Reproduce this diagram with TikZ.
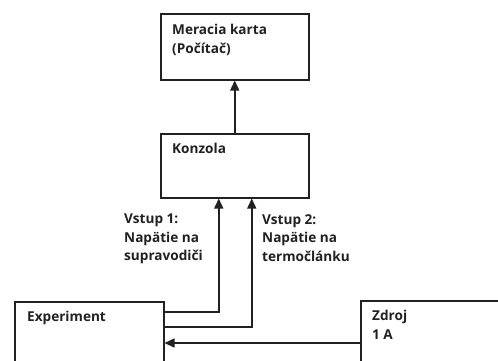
\documentclass[tikz,border=0pt]{standalone}
\usepackage{fontspec}
\setmainfont{Open Sans}
\usetikzlibrary{arrows.meta}
\definecolor{ink}{RGB}{35,32,32}
\tikzset{
  box/.style={draw=ink, line width=1.5pt, anchor=north west, inner sep=0pt},
  lbl/.style={anchor=north west, inner sep=0pt, align=left, text=ink,
    font=\fontsize{13.6}{18.5}\selectfont\bfseries},
  arr/.style={draw=ink, line width=1.5pt, -{Triangle[length=10pt,width=9pt]}},
}
\begin{document}
\begin{tikzpicture}[x=1pt,y=-1pt]
\useasboundingbox[fill=white] (0,0) rectangle (498,360);
\begin{scope}
\clip (0,0) rectangle (498,360);
\node[box, minimum width=148pt, minimum height=66pt] (mer) at (160,13) {};
\node[box, minimum width=148pt, minimum height=64pt] (kon) at (160,133) {};
\node[box, minimum width=149pt, minimum height=90pt] (exp) at (14,301) {};
\node[box, minimum width=160pt, minimum height=90pt] (zdr) at (360,300) {};

\node[lbl] (tmer) at (172,24) {Meracia karta\\(Počítač)};
\node[lbl] (tkon) at (172,143) {Konzola};
\node[lbl] (texp) at (27,311) {Experiment};
\node[lbl] (tzdr) at (372,310) {Zdroj\\1 A};
\node[lbl] (tv1) at (124,214) {Vstup 1:\\Napätie na\\supravodiči};
\node[lbl] (tv2) at (262,214) {Vstup 2:\\Napätie na\\termočlánku};

\draw[arr] (kon.north) -- (mer.south);
\draw[arr] ([yshift=-11pt]exp.north east) -| ([xshift=-16pt]kon.south);
\draw[arr] ([yshift=-26pt]exp.north east) -| ([xshift=17pt]kon.south);
\coordinate (zin) at ([yshift=-43pt]zdr.north west);
\draw[arr] (zin) -- (exp.east |- zin);
\end{scope}
\end{tikzpicture}
\end{document}
